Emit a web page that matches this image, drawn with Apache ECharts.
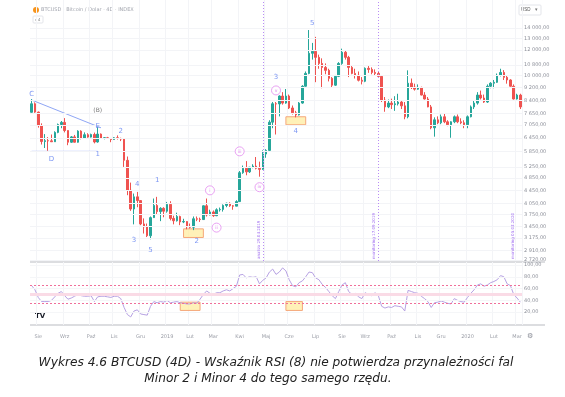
<!DOCTYPE html>
<html>
<head>
<meta charset="utf-8">
<script src="https://cdn.jsdelivr.net/npm/echarts@6/dist/echarts.min.js"></script>
<style>
  html, body { margin: 0; padding: 0; background: #fff; }
  #chart { width: 565px; height: 397px; }
</style>
</head>
<body>
<div id="chart"></div>
<script>
// 4D candles, first one opens 24.07.2018
const firstCandle = Date.UTC(2018, 6, 24);

const open = [
  7720, 8200, 7730, 7030, 6280, 6320, 6310, 6270, 6700, 7080, 7190, 6790, 6250, 6490, 6250, 6760, 6440, 6590, 6480, 6600,
  6260, 6620, 6430, 6450, 6420, 6370, 6450, 6420, 6390, 5500, 4450, 3900, 4250, 4140, 3510, 3440, 3230, 3670, 4000, 3830,
  3920, 3840, 4030, 3650, 3590, 3700, 3560, 3570, 3440, 3430, 3640, 3630, 3620, 3990, 3740, 3820, 3720, 3880, 3890, 4000,
  4060, 3990, 3980, 4110, 5040, 5200, 5070, 5240, 5280, 5200, 5160, 5750, 5900, 7200, 8200, 8190, 8660, 8240, 8660, 7960,
  7690, 7580, 8240, 9280, 10160, 11710, 11870, 11380, 10900, 10600, 10380, 9810, 9350, 9950, 10900, 11800, 11380, 10600, 10160, 10020,
  9680, 9610, 10530, 10450, 10230, 10160, 9950, 8420, 8020, 8240, 8150, 8200, 8300, 8080, 7480, 9480, 9220, 9090, 9200, 8720,
  8480, 8020, 6920, 7320, 7170, 7480, 7220, 7070, 7220, 7480, 7220, 7170, 7070, 7480, 8020, 8240, 8720, 8540, 8300, 9280,
  9480, 9540, 10020, 10230, 9880, 9700, 9280, 8480, 8720
];
const high = [
  8480, 8280, 7760, 7140, 6620, 6480, 6600, 6750, 7130, 7260, 7410, 6800, 6530, 6580, 6800, 6800, 6700, 6660, 6640, 6690,
  6950, 6650, 6480, 6490, 6430, 6480, 6560, 6450, 6400, 5650, 4700, 4350, 4400, 4150, 3650, 3520, 3700, 4200, 4250, 3950,
  3950, 4100, 4120, 3720, 3800, 3720, 3640, 3580, 3520, 3700, 3700, 3670, 4000, 4200, 3880, 3860, 3920, 3940, 4030, 4080,
  4090, 4010, 4150, 5100, 5300, 5470, 5250, 5350, 5630, 5450, 5900, 5950, 7300, 8300, 8300, 8700, 8900, 9100, 8750, 8100,
  7800, 8300, 9350, 10300, 13800, 12600, 13150, 11600, 11300, 10900, 10500, 9900, 10050, 11000, 12100, 11950, 11500, 10700, 10500, 10300,
  9900, 10600, 10700, 10600, 10450, 10300, 10000, 8600, 8450, 8500, 8650, 8800, 8400, 8300, 10380, 9800, 9450, 9400, 9250, 8900,
  8600, 8130, 7450, 7500, 7600, 7650, 7300, 7250, 7550, 7600, 7400, 7300, 7550, 8100, 8400, 8900, 9000, 8750, 9400, 9550,
  9700, 10150, 10500, 10400, 10000, 9750, 9400, 8800, 8800
];
const low = [
  7700, 7690, 6930, 6150, 6000, 5880, 6260, 6260, 6660, 6900, 6700, 6120, 6220, 6240, 6230, 6380, 6420, 6450, 6460, 6200,
  6230, 6420, 6380, 6400, 6250, 6360, 6370, 6300, 5250, 4300, 3850, 3500, 3950, 3480, 3280, 3200, 3150, 3660, 3750, 3580,
  3680, 3800, 3600, 3500, 3570, 3480, 3530, 3380, 3400, 3360, 3580, 3560, 3610, 3700, 3730, 3690, 3710, 3830, 3830, 3950,
  3960, 3880, 3980, 4100, 5000, 4950, 5030, 5200, 5160, 4900, 5140, 5600, 5880, 6900, 6600, 7500, 8150, 8200, 7900, 7600,
  7450, 7550, 8200, 9250, 10100, 11200, 9550, 10500, 9150, 10100, 9600, 9200, 9300, 9900, 10800, 11200, 9900, 10100, 9800, 9600,
  9400, 9550, 10200, 10100, 10000, 9850, 8300, 7750, 7950, 7900, 7800, 8100, 7900, 7350, 7400, 9100, 9000, 9050, 8700, 8450,
  8000, 6850, 6500, 7100, 7100, 7150, 7000, 6450, 7150, 7150, 7100, 6900, 6900, 7450, 7900, 8150, 8450, 8250, 8250, 9150,
  9150, 9500, 9950, 9700, 9450, 9250, 8450, 8450, 7900
];
const close = [
  8200, 7730, 7030, 6280, 6320, 6310, 6270, 6700, 7080, 7190, 6790, 6250, 6490, 6250, 6760, 6440, 6590, 6480, 6600, 6260,
  6620, 6430, 6450, 6420, 6370, 6450, 6420, 6390, 5500, 4450, 3900, 4250, 4140, 3510, 3440, 3230, 3670, 4000, 3830, 3920,
  3840, 4030, 3650, 3590, 3700, 3560, 3570, 3440, 3430, 3640, 3630, 3620, 3990, 3740, 3820, 3720, 3880, 3890, 4000, 4060,
  3990, 3980, 4110, 5040, 5200, 5070, 5240, 5280, 5200, 5160, 5750, 5900, 7200, 8200, 8190, 8660, 8240, 8660, 7960, 7690,
  7580, 8240, 9280, 10160, 11710, 11870, 11380, 10900, 10600, 10380, 9810, 9350, 9950, 10900, 11800, 11380, 10600, 10160, 10020, 9680,
  9610, 10530, 10450, 10230, 10160, 9950, 8420, 8020, 8240, 8150, 8200, 8300, 8080, 7480, 9480, 9220, 9090, 9200, 8720, 8480,
  8020, 6920, 7320, 7170, 7480, 7220, 7070, 7220, 7480, 7220, 7170, 7070, 7480, 8020, 8240, 8720, 8540, 8300, 9280, 9480,
  9540, 10020, 10230, 9880, 9700, 9280, 8480, 8720, 8020
];
// RSI (8)
const rsi = [
  65, 58, 45, 38, 38, 38, 40, 46, 52, 55, 48, 42, 44, 47, 50, 48, 47, 47, 48, 38,
  46, 47, 47, 46, 45, 47, 47, 43, 28, 16, 12, 22, 24, 17, 16, 15, 30, 38, 36, 38,
  37, 40, 36, 37, 38, 36, 35, 34, 34, 36, 35, 42, 50, 56, 52, 50, 53, 53, 56, 58,
  56, 60, 64, 83, 84, 78, 80, 79, 80, 68, 74, 78, 88, 93, 84, 88, 95, 90, 75, 65,
  63, 70, 73, 80, 88, 87, 78, 75, 67, 62, 55, 48, 43, 55, 66, 70, 55, 50, 52, 46,
  43, 53, 50, 48, 53, 48, 30, 27, 29, 28, 31, 30, 29, 22, 57, 55, 53, 52, 47, 43,
  38, 28, 36, 37, 39, 37, 35, 34, 43, 40, 38, 37, 45, 52, 58, 66, 68, 64, 66, 70,
  72, 75, 82, 80, 68, 65, 50, 44, 37
];

const priceTicks = [14000, 13000, 12000, 10800, 10000, 9200, 8400, 7650, 7050, 6450, 5850, 5250, 4850, 4450, 4050, 3750, 3450, 3175, 2910, 2720];
const rsiTicks = [100, 80, 60, 40, 20];
const monthNames = ['Sty', 'Lut', 'Mar', 'Kwi', 'Maj', 'Cze', 'Lip', 'Sie', 'Wrz', 'Paź', 'Lis', 'Gru'];

// wave labels: [text, candle index, price]
const waveLabels = [
  ['C', 0, 8780], ['E', 20, 7020], ['2', 27, 6780], ['D', 6, 5540], ['1', 20, 5740],
  ['4', 32, 4640], ['1', 38, 4780], ['3', 31, 3140], ['5', 36, 2920], ['2', 50, 3100],
  ['3', 74, 9880], ['5', 85, 14500], ['4', 80, 6780]
];
const circledLabels = [['i', 54, 4450], ['ii', 56, 3420], ['iii', 63, 5860], ['iv', 69, 4550], ['v', 74, 9010]];
const triangleUpper = [[0, 8420], [21, 6920]];
const triangleLower = [[0, 5860], [20, 5860]];
// [from idx, to idx, top, bottom]
const priceBoxes = [[46, 52, 3390, 3190], [77, 83, 7480, 7070]];
const rsiBoxes = [[45, 51, 37, 23], [77, 82, 38, 23]];
const markers = [[70, 'analiza 29.04.2019', true], [105, 'monitoring 17.09.2019', true], [147, 'monitoring 05.03.2020', false]];

const dates = open.map((_, i) => new Date(firstCandle + i * 4 * 86400000).toISOString().slice(0, 10));
const isMonthStart = (i) => i > 0 && dates[i].slice(5, 7) !== dates[i - 1].slice(5, 7);

function fmtPrice(v) {
  return String(v).replace(/\B(?=(\d{3})+(?!\d))/g, ' ') + ',00';
}

const chart = echarts.init(document.getElementById('chart'), null, { renderer: 'canvas' });

const blue = '#5b7cf0';
const axisText = '#8c8f99';

const option = {
  animation: false,
  backgroundColor: '#fff',
  textStyle: { fontFamily: 'DejaVu Sans' },
  grid: [
    { left: 30, top: 0, width: 492, height: 261 },
    { left: 30, top: 262, width: 492, height: 63 }
  ],
  xAxis: [
    {
      type: 'category', data: dates, gridIndex: 0, boundaryGap: true,
      axisLine: { show: false }, axisTick: { show: false }, axisLabel: { show: false },
      splitLine: { show: true, interval: (i) => isMonthStart(i), lineStyle: { color: '#f3f4f7', width: 1 } }
    },
    {
      type: 'category', data: dates, gridIndex: 1, boundaryGap: true,
      axisLine: { show: false }, axisTick: { show: false },
      splitLine: { show: true, interval: (i) => isMonthStart(i), lineStyle: { color: '#f3f4f7', width: 1 } },
      axisLabel: {
        interval: (i) => isMonthStart(i),
        margin: 9, fontSize: 5, color: '#9a9da6',
        formatter: (v) => { const m = +v.slice(5, 7); return m === 1 ? v.slice(0, 4) : monthNames[m - 1]; }
      }
    }
  ],
  yAxis: [
    {
      type: 'log', gridIndex: 0, min: 2702, max: 17060, position: 'right',
      axisLine: { show: false }, axisTick: { show: false }, axisLabel: { show: false }, splitLine: { show: false }
    },
    {
      type: 'value', gridIndex: 1, min: -1.67, max: 105, position: 'right',
      axisLine: { show: false }, axisTick: { show: false }, axisLabel: { show: false }, splitLine: { show: false }
    }
  ],
  series: [
    {
      type: 'candlestick', xAxisIndex: 0, yAxisIndex: 0, barWidth: 2,
      data: open.map((o, i) => [o, close[i], low[i], high[i]]),
      itemStyle: { color: '#26a69a', color0: '#ef5350', borderColor: '#26a69a', borderColor0: '#ef5350', borderWidth: 1 },
      markLine: {
        silent: true, symbol: 'none',
        data: priceTicks.map(v => ({
          yAxis: v,
          lineStyle: { color: '#f3f4f7', type: 'solid', width: 1 },
          label: { show: true, position: 'end', distance: 2, formatter: fmtPrice(v), fontSize: 5, color: axisText }
        })).concat(markers.map(m => ({
          xAxis: dates[m[0]],
          lineStyle: { color: m[2] ? '#b98cf5' : 'rgba(255,255,255,0)', type: [1, 2], width: 1 },
          label: { show: true, position: 'insideStartTop', distance: 2, formatter: m[1], fontSize: 4, color: '#9f6cf0' }
        })))
      },
      markArea: {
        silent: true,
        itemStyle: { color: 'rgba(255, 236, 160, 0.75)', borderColor: '#f5a77a', borderWidth: 1 },
        data: priceBoxes.map(b => [{ xAxis: dates[b[0]], yAxis: b[2] }, { xAxis: dates[b[1]], yAxis: b[3] }])
      },
      z: 3
    },
    {
      type: 'line', xAxisIndex: 0, yAxisIndex: 0, symbol: 'none', silent: true,
      lineStyle: { color: '#8fa6f5', width: 1 },
      data: triangleUpper.map(p => [dates[p[0]], p[1]]), z: 4
    },
    {
      type: 'line', xAxisIndex: 0, yAxisIndex: 0, symbol: 'none', silent: true,
      lineStyle: { color: '#8fa6f5', width: 1 },
      data: triangleLower.map(p => [dates[p[0]], p[1]]), z: 4
    },
    {
      type: 'scatter', xAxisIndex: 0, yAxisIndex: 0, symbolSize: 0, silent: true, z: 6,
      data: waveLabels.map(w => ({ name: w[0], value: [dates[w[1]], w[2]] })),
      label: { show: true, position: 'inside', formatter: '{b}', fontSize: 7, color: blue }
    },
    {
      type: 'scatter', xAxisIndex: 0, yAxisIndex: 0, symbolSize: 0, silent: true, z: 6,
      data: [{ name: '(B)', value: [dates[20], 7850] }],
      label: { show: true, position: 'inside', formatter: '{b}', fontSize: 6, color: '#555' }
    },
    {
      type: 'scatter', xAxisIndex: 0, yAxisIndex: 0, symbol: 'circle', symbolSize: 9, silent: true, z: 6,
      itemStyle: { color: '#fff', borderColor: '#e48cf0', borderWidth: 1 },
      data: circledLabels.map(w => ({ name: w[0], value: [dates[w[1]], w[2]] })),
      label: { show: true, position: 'inside', formatter: '{b}', fontSize: 4.5, color: '#d56be6' }
    },
    {
      type: 'line', xAxisIndex: 1, yAxisIndex: 1, symbol: 'none', silent: true,
      data: rsi,
      lineStyle: { color: '#b7a2e3', width: 1 },
      markLine: {
        silent: true, symbol: 'none',
        data: rsiTicks.map(v => ({
          yAxis: v,
          lineStyle: { color: '#f5f6f8', type: 'solid', width: 1 },
          label: { show: true, position: 'end', distance: 2, formatter: v + ',00', fontSize: 5, color: axisText }
        })).concat([
          { yAxis: 65, lineStyle: { color: '#f06f9a', type: [2, 2], width: 1 }, label: { show: false } },
          { yAxis: 50, lineStyle: { color: '#fadbe6', type: 'solid', width: 3 }, label: { show: false } },
          { yAxis: 35, lineStyle: { color: '#f06f9a', type: [2, 2], width: 1 }, label: { show: false } }
        ])
      },
      markArea: {
        silent: true,
        itemStyle: { color: 'rgba(255, 236, 160, 0.75)', borderColor: '#f5a77a', borderWidth: 1 },
        data: rsiBoxes.map(b => [{ xAxis: dates[b[0]], yAxis: b[2] }, { xAxis: dates[b[1]], yAxis: b[3] }])
      }
    }
  ],
  graphic: [
    { type: 'rect', shape: { x: 30, y: 261, width: 515, height: 2 }, style: { fill: '#dcdde0' }, silent: true },
    { type: 'rect', shape: { x: 30, y: 324, width: 515, height: 2 }, style: { fill: '#dcdde0' }, silent: true },
    { type: 'circle', shape: { cx: 36, cy: 10, r: 3 }, style: { fill: '#f7931a' }, silent: true },
    { type: 'text', x: 41, y: 10, style: { text: 'BTCUSD · Bitcoin / Dolar · 4D · INDEX', fontSize: 5, fill: '#a3a6af', verticalAlign: 'middle', fontFamily: 'DejaVu Sans' }, silent: true },
    { type: 'rect', shape: { x: 33, y: 16, width: 10, height: 7, r: 1 }, style: { fill: '#fff', stroke: '#e3e5ea', lineWidth: 1 }, silent: true },
    { type: 'text', x: 35, y: 19.5, style: { text: 'v 4', fontSize: 4, fill: '#777', verticalAlign: 'middle' }, silent: true },
    { type: 'rect', shape: { x: 519, y: 5, width: 22, height: 10, r: 1 }, style: { fill: '#fff', stroke: '#e3e5ea', lineWidth: 1 }, silent: true },
    { type: 'text', x: 521, y: 10, style: { text: 'USD', fontSize: 4.5, fill: '#555', verticalAlign: 'middle' }, silent: true },
    { type: 'text', x: 535, y: 10, style: { text: '▾', fontSize: 4.5, fill: '#777', verticalAlign: 'middle' }, silent: true },
    { type: 'text', x: 35, y: 316, style: { text: 'TV', fontSize: 7, fontWeight: 'bold', fill: '#131722', verticalAlign: 'middle', fontFamily: 'DejaVu Sans' }, silent: true },
    { type: 'text', x: 530, y: 336, style: { text: '⚙', fontSize: 7, fill: '#8c8f99', align: 'center', verticalAlign: 'middle' }, silent: true },
    { type: 'text', x: 276, y: 363, style: { text: 'Wykres 4.6 BTCUSD (4D) - Wskaźnik RSI (8) nie potwierdza przynależności fal', fontSize: 12.2, fontStyle: 'italic', fill: '#222', align: 'center', verticalAlign: 'middle', fontFamily: 'DejaVu Sans' }, silent: true },
    { type: 'text', x: 268, y: 379, style: { text: 'Minor 2 i Minor 4 do tego samego rzędu.', fontSize: 12.2, fontStyle: 'italic', fill: '#222', align: 'center', verticalAlign: 'middle', fontFamily: 'DejaVu Sans' }, silent: true }
  ]
};

chart.setOption(option);
window.addEventListener('resize', () => chart.resize());
</script>
</body>
</html>
